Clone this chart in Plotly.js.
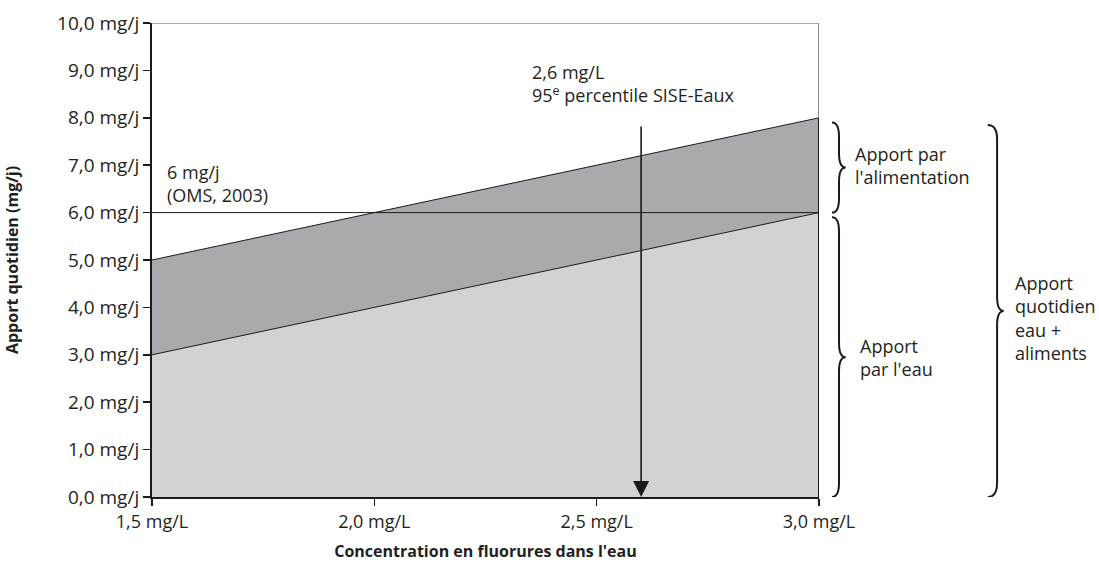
<!DOCTYPE html>
<html>
<head>
<meta charset="utf-8">
<script src="https://cdn.plot.ly/plotly-3.0.1.min.js"></script>
<style>html,body{margin:0;padding:0;background:#fff;}#chart{width:1099px;height:581px;}</style>
</head>
<body>
<div id="chart"></div>
<script>
// ---- Data ----
const concentrations = [1.5, 3.0];          // mg/L
const apportEau = [3.0, 6.0];               // mg/j from water
const apportTotal = [5.0, 8.0];             // mg/j water + food
const seuilOMS = 6;                         // mg/j (OMS, 2003)
const percentile95 = 2.6;                   // mg/L
const arrowTop = 7.85;
const yTickVals = [0, 1, 2, 3, 4, 5, 6, 7, 8, 9, 10];
const yTickText = ["0,0 mg/j", "1,0 mg/j", "2,0 mg/j", "3,0 mg/j", "4,0 mg/j", "5,0 mg/j", "6,0 mg/j", "7,0 mg/j", "8,0 mg/j", "9,0 mg/j", "10,0 mg/j"];
const xTickVals = [1.5, 2.0, 2.5, 3.0];
const xTickText = ["1,5 mg/L", "2,0 mg/L", "2,5 mg/L", "3,0 mg/L"];

const FONT = "'Open Sans', 'DejaVu Sans', sans-serif";
const TXT = "#231f20";

function brace(x0, x1, x2, ytop, ybot, r) {
  const ymid = (ytop + ybot) / 2;
  return `M ${x0},${ytop} Q ${x1},${ytop} ${x1},${ytop - r} L ${x1},${ymid + r} Q ${x1},${ymid} ${x2},${ymid} ` +
         `Q ${x1},${ymid} ${x1},${ymid - r} L ${x1},${ybot + r} Q ${x1},${ybot} ${x0},${ybot}`;
}

const traces = [
  {x: concentrations, y: apportEau, type: 'scatter', mode: 'lines', fill: 'tozeroy',
   fillcolor: '#d1d2d4', line: {color: '#1a1a1a', width: 1}, hoverinfo: 'skip', showlegend: false},
  {x: concentrations, y: apportTotal, type: 'scatter', mode: 'lines', fill: 'tonexty',
   fillcolor: '#a9aaad', line: {color: '#1a1a1a', width: 1}, hoverinfo: 'skip', showlegend: false},
  {x: [concentrations[0], concentrations[concentrations.length - 1]], y: [seuilOMS, seuilOMS],
   type: 'scatter', mode: 'lines', line: {color: '#1a1a1a', width: 1}, hoverinfo: 'skip', showlegend: false}
];

const xMin = concentrations[0], xMax = concentrations[concentrations.length - 1];
const yTop = apportTotal[apportTotal.length - 1];

const layout = {
  width: 1099, height: 581,
  margin: {l: 152, r: 280, t: 23, b: 84},
  paper_bgcolor: '#fff', plot_bgcolor: '#fff',
  font: {family: FONT, size: 18, color: TXT},
  showlegend: false,
  xaxis: {
    range: [1.5, 3.0], tickvals: xTickVals, ticktext: xTickText,
    showgrid: false, zeroline: false, showline: true, linecolor: '#1a1a1a', linewidth: 2,
    ticks: 'outside', ticklen: 7, tickwidth: 1.5, tickcolor: '#1a1a1a',
    tickfont: {family: FONT, size: 18, color: TXT},
    title: {text: "<b>Concentration en fluorures dans l'eau</b>", font: {family: FONT, size: 16, color: TXT}, standoff: 14}
  },
  yaxis: {
    range: [0, 10], tickvals: yTickVals, ticktext: yTickText,
    showgrid: false, zeroline: false, showline: true, linecolor: '#1a1a1a', linewidth: 2,
    ticks: 'outside', ticklen: 7, tickwidth: 1.5, tickcolor: '#1a1a1a',
    tickfont: {family: FONT, size: 19, color: TXT},
    title: {text: "<b>Apport quotidien (mg/j)</b>", font: {family: FONT, size: 16, color: TXT}, standoff: 34}
  },
  shapes: [
    {type: 'line', xref: 'x', yref: 'y', x0: xMin, x1: xMax, y0: 10, y1: 10, line: {color: '#8c8c8c', width: 1.5}},
    {type: 'line', xref: 'x', yref: 'y', x0: xMax, x1: xMax, y0: yTop, y1: 10, line: {color: '#8c8c8c', width: 2}},
    {type: 'line', xref: 'x', yref: 'y', x0: xMax, x1: xMax, y0: 0, y1: yTop, line: {color: '#1a1a1a', width: 2}},
    {type: 'path', xref: 'paper', yref: 'y', path: brace(1.0195, 1.030, 1.040, 7.9, 6.0, 0.3), line: {color: '#1a1a1a', width: 2}},
    {type: 'path', xref: 'paper', yref: 'y', path: brace(1.0195, 1.030, 1.040, 5.9, 0.0, 0.3), line: {color: '#1a1a1a', width: 2}},
    {type: 'path', xref: 'paper', yref: 'y', path: brace(1.253, 1.267, 1.277, 7.85, 0.0, 0.3), line: {color: '#1a1a1a', width: 2}}
  ],
  annotations: [
    {x: percentile95, y: 0, ax: percentile95, ay: arrowTop, xref: 'x', yref: 'y', axref: 'x', ayref: 'y',
     showarrow: true, arrowhead: 2, arrowsize: 2, arrowwidth: 1.6, arrowcolor: '#1a1a1a', text: ''},
    {x: 0.0195, y: 6.62, xref: 'paper', yref: 'y', xanchor: 'left', yanchor: 'middle', align: 'left', showarrow: false,
     text: `${seuilOMS} mg/j<br>(OMS, 2003)`},
    {x: 0.567, y: 8.73, xref: 'paper', yref: 'y', xanchor: 'left', yanchor: 'middle', align: 'left', showarrow: false,
     text: "2,6 mg/L<br>95<sup>e</sup> percentile SISE-Eaux"},
    {x: 1.051, y: 7.0, xref: 'paper', yref: 'y', xanchor: 'left', yanchor: 'middle', align: 'left', showarrow: false,
     text: "Apport par<br>l'alimentation"},
    {x: 1.058, y: 2.95, xref: 'paper', yref: 'y', xanchor: 'left', yanchor: 'middle', align: 'left', showarrow: false,
     text: "Apport<br>par l'eau"},
    {x: 1.291, y: 3.78, xref: 'paper', yref: 'y', xanchor: 'left', yanchor: 'middle', align: 'left', showarrow: false,
     text: "Apport<br>quotidien<br>eau +<br>aliments"}
  ]
};

Plotly.newPlot('chart', traces, layout, {displayModeBar: false, staticPlot: true});
</script>
</body>
</html>
